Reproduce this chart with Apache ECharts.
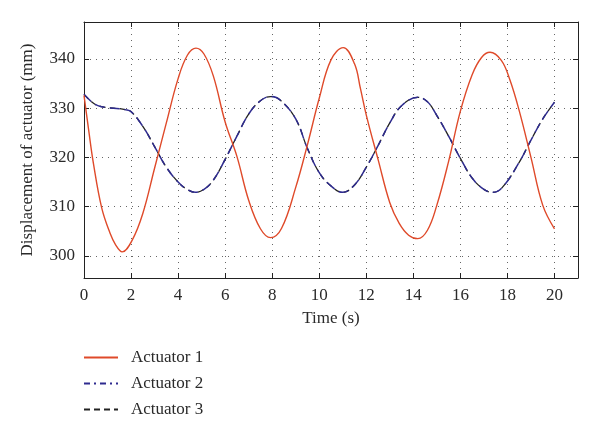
<!DOCTYPE html>
<html>
<head>
<meta charset="utf-8">
<script src="https://cdn.jsdelivr.net/npm/echarts@6/dist/echarts.min.js"></script>
<style>html,body{margin:0;padding:0;background:#fff}#c{width:600px;height:435px}</style>
</head>
<body>
<div id="c"></div>
<script>
var time1 = [0, 0.2, 0.4, 0.75, 1.1, 1.35, 1.62, 2.05, 2.5, 3, 3.5, 4, 4.4, 4.76, 5.1, 5.5, 6, 6.5, 7, 7.5, 7.93, 8.4, 9, 9.5, 10, 10.5, 11.02, 11.5, 11.75, 12, 12.5, 13, 13.4, 13.8, 14.19, 14.6, 15, 15.5, 16, 16.5, 16.9, 17.26, 17.74, 18.1, 18.5, 19, 19.5, 20];
var actuator1 = [332.6, 325.5, 318.8, 309.8, 304.7, 302.2, 300.8, 303.2, 308.6, 317.8, 327.0, 336.0, 340.8, 342.2, 341.0, 336.5, 327.2, 320.2, 311.3, 305.5, 303.7, 305.6, 313.9, 322.6, 332.0, 339.8, 342.3, 339.0, 334.0, 328.6, 319.6, 310.8, 306.6, 304.2, 303.5, 305.2, 310.3, 319.2, 329.4, 336.8, 340.3, 341.35, 339.7, 335.8, 329.5, 320.0, 310.3, 305.5];
var time2 = [0, 0.25, 0.5, 0.75, 1, 1.5, 1.75, 2, 2.5, 3, 3.5, 4, 4.35, 4.73, 5.1, 5.5, 6, 6.5, 7, 7.5, 7.93, 8.35, 9, 9.5, 10, 10.5, 11, 11.5, 12, 12.5, 13, 13.5, 14.19, 14.6, 15, 15.5, 16, 16.5, 17, 17.38, 17.8, 18.5, 19, 19.5, 20];
var actuator2 = [332.8, 331.6, 330.7, 330.3, 330.1, 329.9, 329.7, 329.3, 326.3, 322.2, 318.0, 315.0, 313.6, 312.9, 313.5, 315.4, 319.6, 324.3, 328.8, 331.5, 332.35, 331.6, 327.8, 321.8, 316.9, 314.2, 312.9, 314.4, 318.0, 322.4, 327.0, 330.5, 332.2, 331.3, 328.5, 324.3, 319.8, 315.8, 313.5, 312.9, 314.0, 319.0, 323.5, 327.8, 331.2];
var time3 = time2.slice();
var actuator3 = actuator2.slice();
var xTicks = [0, 2, 4, 6, 8, 10, 12, 14, 16, 18, 20];
var yTicks = [300, 310, 320, 330, 340];

function pairs(t, v) { return t.map(function (x, i) { return [x, v[i]]; }); }

var font = 'Liberation Serif';
var txt = '#2a2a2a';
var gridLine = { type: [1, 5], color: '#666', width: 1 };
var axLine = { show: true, onZero: false, lineStyle: { color: '#222', width: 1 } };
var tick = { show: true, inside: true, length: 5, lineStyle: { color: '#222' } };

var chart = echarts.init(document.getElementById('c'));
chart.setOption({
  animation: false,
  backgroundColor: '#fff',
  grid: { left: 84, right: 22, top: 22, bottom: 157 },
  legend: {
    orient: 'vertical', left: 83, top: 349, padding: 0, itemWidth: 34, itemHeight: 14, itemGap: 9,
    itemStyle: { opacity: 0 },
    textStyle: { fontFamily: font, fontSize: 17, color: txt, padding: [0, 0, 0, 8] },
    data: [
      { name: 'Actuator 1' },
      { name: 'Actuator 2', lineStyle: { type: [6, 4, 2, 4] } },
      { name: 'Actuator 3' }
    ]
  },
  xAxis: [{
    type: 'value', min: 0, max: 21, interval: 2,
    name: 'Time (s)', nameLocation: 'middle', nameGap: 32,
    nameTextStyle: { fontFamily: font, fontSize: 17, color: txt },
    axisLine: axLine, axisTick: tick,
    axisLabel: { showMaxLabel: false, margin: 9, fontFamily: font, fontSize: 17, color: txt },
    splitLine: { show: true, lineStyle: gridLine }
  }, {
    type: 'value', min: 0, max: 21, interval: 2, position: 'top',
    axisLine: axLine, axisTick: tick,
    axisLabel: { show: false },
    splitLine: { show: false }
  }],
  yAxis: [{
    type: 'value', min: 295.5, max: 347.5,
    name: 'Displacement of actuator (mm)', nameLocation: 'middle', nameGap: 48,
    nameTextStyle: { fontFamily: font, fontSize: 17, color: txt },
    axisLine: axLine,
    axisTick: { show: true, inside: true, length: 5, customValues: yTicks, lineStyle: { color: '#222' } },
    axisLabel: { customValues: yTicks, margin: 9, fontFamily: font, fontSize: 17, color: txt },
    splitLine: { show: true, lineStyle: gridLine }
  }, {
    type: 'value', min: 295.5, max: 347.5, position: 'right',
    axisLine: axLine,
    axisTick: { show: true, inside: true, length: 5, customValues: yTicks, lineStyle: { color: '#222' } },
    axisLabel: { show: false, customValues: yTicks },
    splitLine: { show: false }
  }],
  series: [
    { name: 'Actuator 3', type: 'line', smooth: 0.4, symbol: 'none', data: pairs(time3, actuator3), z: 2,
      lineStyle: { color: '#222', width: 1.3, type: [6, 4] }, itemStyle: { color: '#222' } },
    { name: 'Actuator 2', type: 'line', smooth: 0.4, symbol: 'none', data: pairs(time2, actuator2), z: 3,
      lineStyle: { color: '#2e2b8f', width: 1.5, type: [10, 5] }, itemStyle: { color: '#2e2b8f' } },
    { name: 'Actuator 1', type: 'line', smooth: 0.4, symbol: 'none', data: pairs(time1, actuator1), z: 4,
      lineStyle: { color: '#df4a2a', width: 1.4 }, itemStyle: { color: '#df4a2a' } }
  ]
});
</script>
</body>
</html>
